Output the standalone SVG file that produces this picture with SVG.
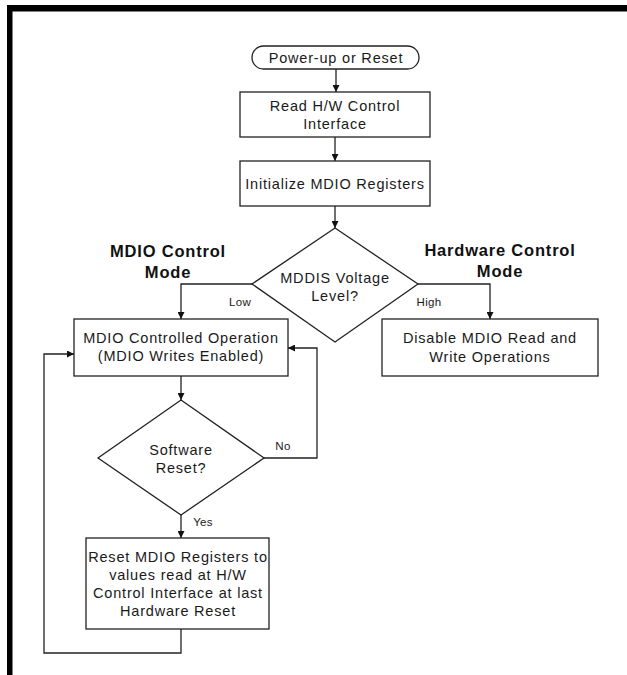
<svg xmlns="http://www.w3.org/2000/svg" width="627" height="675" viewBox="0 0 627 675">
<style>
.box{fill:#fff;stroke:#222;stroke-width:1.3}
.t{font-family:"Liberation Sans",Arial,sans-serif;font-size:14.5px;letter-spacing:0.8px;fill:#1a1a1a;text-anchor:middle}
.s{font-family:"Liberation Sans",Arial,sans-serif;font-size:11.5px;letter-spacing:0.3px;fill:#1a1a1a;text-anchor:middle}
.h{font-family:"Liberation Sans",Arial,sans-serif;font-size:16.5px;font-weight:bold;letter-spacing:0.8px;fill:#111;text-anchor:middle}
.c{fill:none;stroke:#222;stroke-width:1.3}
</style>
<defs>
<marker id="ah" viewBox="0 0 10 10" refX="10" refY="5" markerWidth="7" markerHeight="7" markerUnits="userSpaceOnUse" orient="auto">
<path d="M0,0 L10,5 L0,10 z" fill="#111"/>
</marker>
</defs>
<rect width="627" height="675" fill="#fff"/>
<g id="frame">
<rect x="7" y="5" width="620" height="6.5" fill="#000"/>
<rect x="7" y="5" width="5.5" height="670" fill="#000"/>
</g>
<g id="connectors">
<line class="c" x1="336" y1="69" x2="336" y2="92" marker-end="url(#ah)"/>
<line class="c" x1="335" y1="137" x2="335" y2="161" marker-end="url(#ah)"/>
<line class="c" x1="335" y1="206" x2="335" y2="228" marker-end="url(#ah)"/>
<polyline class="c" points="252,284 181,284 181,319" marker-end="url(#ah)"/>
<polyline class="c" points="418,284 490,284 490,319" marker-end="url(#ah)"/>
<line class="c" x1="181" y1="376" x2="181" y2="400" marker-end="url(#ah)"/>
<polyline class="c" points="264,458 317,458 317,348 288,348" marker-end="url(#ah)"/>
<line class="c" x1="181" y1="515" x2="181" y2="538" marker-end="url(#ah)"/>
<polyline class="c" points="181,629 181,653 44,653 44,354 74,354" marker-end="url(#ah)"/>
</g>
<g id="start">
<rect class="box" x="252" y="46" width="167" height="23" rx="11.5"/>
<text class="t" x="336" y="63">Power-up or Reset</text>
</g>
<g id="read-hw">
<rect class="box" x="240" y="92" width="190" height="45"/>
<text class="t" x="335" y="111">Read H/W Control</text>
<text class="t" x="335" y="129">Interface</text>
</g>
<g id="init">
<rect class="box" x="240" y="161" width="190" height="45"/>
<text class="t" x="335" y="189">Initialize MDIO Registers</text>
</g>
<g id="mddis">
<polygon class="box" points="335,228 418,284 335,342 252,284"/>
<text class="t" x="335" y="283">MDDIS Voltage</text>
<text class="t" x="335" y="301">Level?</text>
</g>
<g id="labels">
<text class="h" x="168" y="256.5">MDIO Control</text>
<text class="h" x="168" y="277.5">Mode</text>
<text class="h" x="500" y="256">Hardware Control</text>
<text class="h" x="500" y="277">Mode</text>
<text class="s" x="240" y="306">Low</text>
<text class="s" x="429" y="306">High</text>
<text class="s" x="283" y="449.5">No</text>
<text class="s" x="203" y="525.5">Yes</text>
</g>
<g id="mdio-op">
<rect class="box" x="74" y="319" width="214" height="57"/>
<text class="t" x="181" y="343">MDIO Controlled Operation</text>
<text class="t" x="181" y="361">(MDIO Writes Enabled)</text>
</g>
<g id="disable">
<rect class="box" x="382" y="319" width="216" height="57"/>
<text class="t" x="490" y="343">Disable MDIO Read and</text>
<text class="t" x="490" y="361.5">Write Operations</text>
</g>
<g id="sw-reset">
<polygon class="box" points="181,400 264,458 181,515 98,458"/>
<text class="t" x="181" y="455">Software</text>
<text class="t" x="181" y="473">Reset?</text>
</g>
<g id="reset-regs">
<rect class="box" x="86" y="538" width="183" height="91"/>
<text class="t" x="178" y="561.5">Reset MDIO Registers to</text>
<text class="t" x="178" y="580">values read at H/W</text>
<text class="t" x="178" y="597.5">Control Interface at last</text>
<text class="t" x="178" y="616">Hardware Reset</text>
</g>
</svg>
